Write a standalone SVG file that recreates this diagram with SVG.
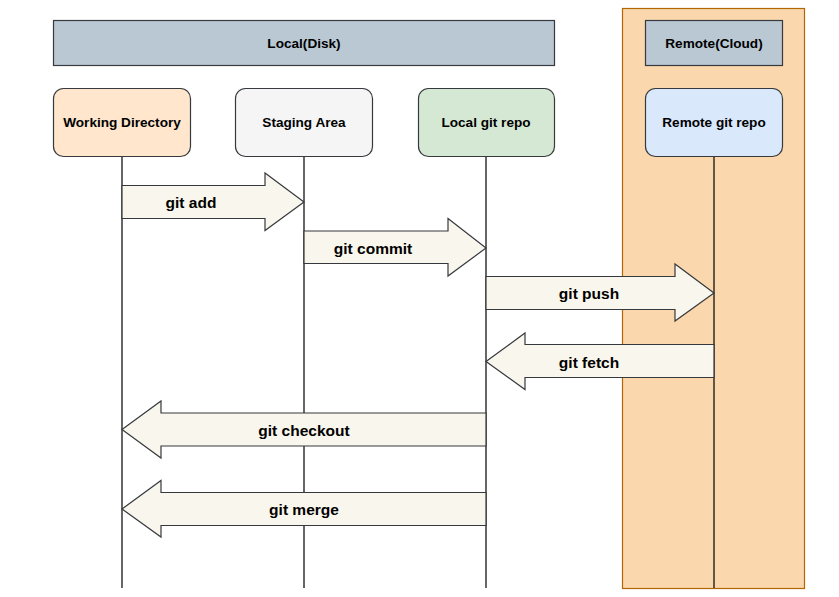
<svg xmlns="http://www.w3.org/2000/svg" width="839" height="597" viewBox="0 0 839 597">
<style>
  .lbl { font-family: "Liberation Sans", Arial, sans-serif; font-weight: bold; font-size: 13.6px; fill: #000; text-anchor: middle; dominant-baseline: central; }
  .albl { font-family: "Liberation Sans", Arial, sans-serif; font-weight: bold; font-size: 15.5px; fill: #000; text-anchor: middle; dominant-baseline: central; }
  .node { stroke: #36393d; stroke-width: 1.2; }
  .life { stroke: #000; stroke-width: 1.2; fill: none; }
  .arrow { fill: #f9f7ed; stroke: #36393d; stroke-width: 1.2; stroke-linejoin: miter; }
</style>
<rect width="839" height="597" fill="#ffffff"/>

<g id="remote-panel">
  <rect x="622.5" y="8.5" width="182" height="580" fill="#fad7ac" stroke="#b46504" stroke-width="1.2"/>
</g>

<g id="local-disk">
  <rect class="node" x="53.5" y="20.5" width="501" height="45" fill="#bac8d3"/>
  <text class="lbl" x="304" y="43">Local(Disk)</text>
</g>

<g id="remote-cloud">
  <rect class="node" x="645.5" y="20.5" width="137" height="45" fill="#bac8d3"/>
  <text class="lbl" x="714" y="43">Remote(Cloud)</text>
</g>

<g id="lifelines">
  <line class="life" x1="122" y1="156" x2="122" y2="588"/>
  <line class="life" x1="304" y1="156" x2="304" y2="588"/>
  <line class="life" x1="486" y1="156" x2="486" y2="588"/>
  <line class="life" x1="714" y1="156" x2="714" y2="588"/>
</g>

<g id="working-directory">
  <rect class="node" x="53.5" y="88.5" width="137" height="68" rx="10" fill="#ffe6cc"/>
  <text class="lbl" x="122" y="122">Working Directory</text>
</g>
<g id="staging-area">
  <rect class="node" x="235.5" y="88.5" width="137" height="68" rx="10" fill="#f5f5f5"/>
  <text class="lbl" x="304" y="122">Staging Area</text>
</g>
<g id="local-git-repo">
  <rect class="node" x="418.5" y="88.5" width="136" height="68" rx="10" fill="#d5e8d4"/>
  <text class="lbl" x="486" y="122">Local git repo</text>
</g>
<g id="remote-git-repo">
  <rect class="node" x="645.5" y="88.5" width="137" height="68" rx="10" fill="#dae8fc"/>
  <text class="lbl" x="714" y="122">Remote git repo</text>
</g>

<g id="connectors">
  <g id="git-add">
    <path class="arrow" d="M122,185.5 H265 V173 L304,202 L265,230.5 V218.5 H122 Z"/>
    <text class="albl" x="191" y="202">git add</text>
  </g>
  <g id="git-commit">
    <path class="arrow" d="M304,231 H448 V218.5 L486,248 L448,276 V263.5 H304 Z"/>
    <text class="albl" x="373" y="248">git commit</text>
  </g>
  <g id="git-push">
    <path class="arrow" d="M486,276.5 H675 V264 L714,293 L675,321 V309.5 H486 Z"/>
    <text class="albl" x="589" y="293">git push</text>
  </g>
  <g id="git-fetch">
    <path class="arrow" d="M714,344.5 H525 V333 L486,361.5 L525,389.5 V377.5 H714 Z"/>
    <text class="albl" x="589" y="362">git fetch</text>
  </g>
  <g id="git-checkout">
    <path class="arrow" d="M486,413 H161 V401 L122,429.5 L161,458 V446 H486 Z"/>
    <text class="albl" x="304" y="430">git checkout</text>
  </g>
  <g id="git-merge">
    <path class="arrow" d="M486,492.5 H161 V480.5 L122,509 L161,537 V525.5 H486 Z"/>
    <text class="albl" x="304" y="509">git merge</text>
  </g>
</g>
</svg>
